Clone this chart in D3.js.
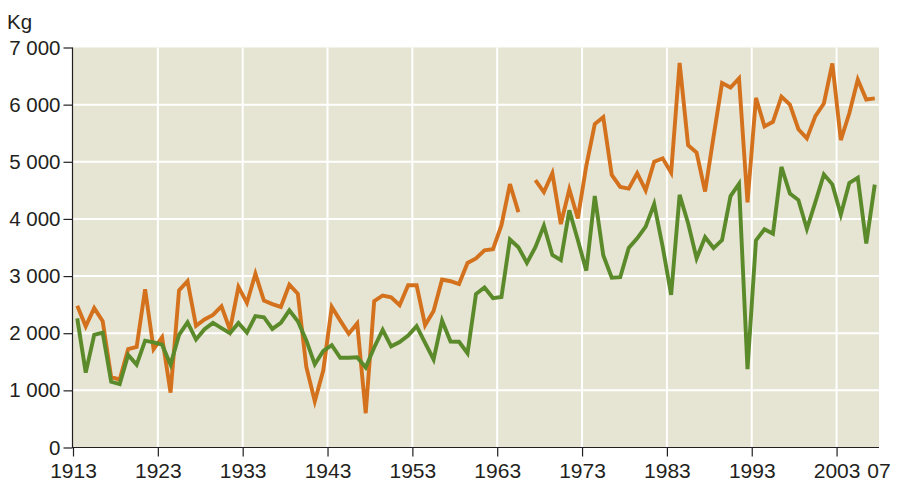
<!DOCTYPE html>
<html>
<head>
<meta charset="utf-8">
<script src="https://cdn.jsdelivr.net/npm/d3@7/dist/d3.min.js"></script>
<style>
  html, body { margin: 0; padding: 0; background: #ffffff; }
  svg { display: block; }
  text { font-family: "Liberation Sans", Arial, sans-serif; fill: #231f20; }
</style>
</head>
<body>
<svg id="chart" width="905" height="484"></svg>
<script>
// Years covered, one value per year (kg)
const years = d3.range(1913, 2008);

// Upper (orange) series; 1966 has no value
const upperSeries = [
  2480, 2120, 2440, 2210, 1230, 1190, 1720, 1760, 2770, 1720,
  1930,  960, 2750, 2910, 2130, 2240, 2320, 2470, 2060, 2810,
  2530, 3040, 2570, 2510, 2460, 2850, 2690, 1410,  810, 1350,
  2460, 2220, 1990, 2170,  600, 2560, 2660, 2630, 2490, 2840,
  2840, 2140, 2390, 2940, 2910, 2860, 3230, 3310, 3450, 3470,
  3890, 4610, 4120, null, 4680, 4470, 4800, 3910, 4520, 4010,
  4930, 5660, 5780, 4770, 4560, 4530, 4800, 4500, 5000, 5060,
  4810, 6730, 5290, 5160, 4480, 5440, 6380, 6300, 6460, 4290,
  6120, 5620, 5700, 6140, 6000, 5570, 5410, 5800, 6020, 6720,
  5380, 5850, 6440, 6090, 6110
];

// Lower (green) series
const lowerSeries = [
  2260, 1310, 1970, 2010, 1150, 1110, 1620, 1450, 1870, 1840,
  1800, 1450, 1970, 2190, 1890, 2070, 2180, 2090, 2000, 2180,
  2010, 2300, 2280, 2075, 2180, 2400, 2210, 1875, 1455, 1690,
  1790, 1570, 1570, 1580, 1400, 1750, 2060, 1770, 1845, 1960,
  2125, 1830, 1540, 2220, 1855, 1850, 1650, 2685, 2800, 2615,
  2635, 3640, 3505, 3230, 3505, 3880, 3370, 3280, 4150, 3630,
  3095, 4400, 3365, 2970, 2980, 3490, 3660, 3865, 4260, 3515,
  2670, 4420, 3925, 3310, 3680, 3490, 3630, 4400, 4615, 1370,
  3625, 3820, 3740, 4910, 4445, 4330, 3825, 4295, 4780, 4605,
  4075, 4630, 4720, 3570, 4600
];

// Axis ticks and labels
const yTicks = [0, 1000, 2000, 3000, 4000, 5000, 6000, 7000];
const xTicks = [1913, 1923, 1933, 1943, 1953, 1963, 1973, 1983, 1993, 2003];
const xEndLabel = "07";
const unitLabel = "Kg";

const svg = d3.select("#chart");
const plotLeft = 73, plotRight = 879, plotTop = 47.5, plotBottom = 447.5;
const fontStack = "'Liberation Sans', Arial, sans-serif";

// Each year occupies one unit; values sit mid-year
const x = d3.scaleLinear().domain([1913, 2008]).range([plotLeft, plotRight]);
const y = d3.scaleLinear().domain([0, 7000]).range([plotBottom, plotTop]);

// Plot background
svg.append("rect")
  .attr("x", plotLeft).attr("y", plotTop)
  .attr("width", plotRight - plotLeft).attr("height", plotBottom - plotTop)
  .attr("fill", "#e6e4d3");

// Grid lines
const grid = svg.append("g").attr("stroke", "#ffffff").attr("stroke-width", 2);
grid.selectAll("line.h")
  .data(yTicks.filter(v => v > 0 && v < 7000))
  .join("line")
  .attr("class", "h")
  .attr("x1", plotLeft).attr("x2", plotRight)
  .attr("y1", d => y(d)).attr("y2", d => y(d));
grid.selectAll("line.v")
  .data(xTicks.filter(v => v > 1913))
  .join("line")
  .attr("class", "v")
  .attr("x1", d => x(d)).attr("x2", d => x(d))
  .attr("y1", plotTop).attr("y2", plotBottom);

// Series lines
const line = series => d3.line()
  .defined((d, i) => series[i] !== null)
  .x((d, i) => x(years[i] + 0.5))
  .y((d, i) => y(series[i]))(series);

svg.append("path")
  .attr("d", line(upperSeries))
  .attr("fill", "none")
  .attr("stroke", "#d3711d")
  .attr("stroke-width", 3.9);

svg.append("path")
  .attr("d", line(lowerSeries))
  .attr("fill", "none")
  .attr("stroke", "#5b8a2a")
  .attr("stroke-width", 3.9);

// Y axis
const yAxis = d3.axisLeft(y)
  .tickValues(yTicks)
  .tickSize(9)
  .tickPadding(3)
  .tickFormat(d => d3.format(",")(d).replace(/,/g, " "));
const gy = svg.append("g")
  .attr("transform", `translate(${plotLeft - 0.5},0)`)
  .call(yAxis);
gy.select(".domain").attr("stroke", "#231f20").attr("stroke-width", 1.2)
  .attr("d", `M0,${plotTop}V${plotBottom}`);
gy.selectAll(".tick line").attr("stroke", "#231f20").attr("stroke-width", 1.2);
gy.selectAll(".tick text")
  .style("font-size", "20.5px")
  .style("font-family", fontStack)
  .attr("fill", "#231f20");

// X axis
const xAxis = d3.axisBottom(x)
  .tickValues(xTicks)
  .tickSize(9)
  .tickPadding(7)
  .tickFormat(d3.format("d"));
const gx = svg.append("g")
  .attr("transform", `translate(0,${plotBottom})`)
  .call(xAxis);
gx.select(".domain").attr("stroke", "#231f20").attr("stroke-width", 1.2)
  .attr("d", `M${plotLeft - 1},0H${plotRight}`);
gx.selectAll(".tick line").attr("stroke", "#231f20").attr("stroke-width", 1.2);
gx.selectAll(".tick text")
  .style("font-size", "21px")
  .style("font-family", fontStack)
  .attr("fill", "#231f20");

// Closing year label at the right edge
gx.append("text")
  .attr("x", x(2008))
  .attr("y", 16)
  .attr("dy", "0.71em")
  .attr("text-anchor", "middle")
  .style("font-size", "21px")
  .style("font-family", fontStack)
  .attr("fill", "#231f20")
  .text(xEndLabel);

// Unit label
svg.append("text")
  .attr("x", 7)
  .attr("y", 29)
  .style("font-size", "20.5px")
  .style("font-family", fontStack)
  .text(unitLabel);
</script>
</body>
</html>
